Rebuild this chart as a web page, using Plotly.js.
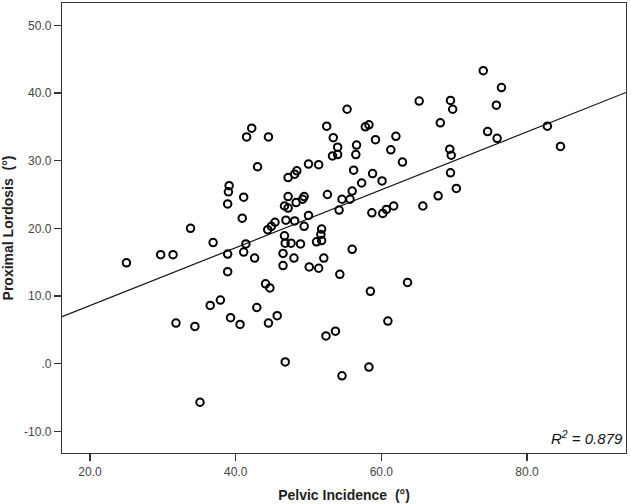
<!doctype html>
<html><head><meta charset="utf-8" />
<script src="https://cdn.plot.ly/plotly-3.0.1.min.js"></script>
<style>
  body { margin:0; background:#fff; }
  #chart { width:631px; height:504px; }
</style></head>
<body>
<div id="chart"></div>
<script>
// Pelvic Incidence (°) vs Proximal Lordosis (°)
const pelvicIncidence = [
  42.2, 41.5, 44.5, 43.0, 55.3, 65.2, 68.1, 52.5, 53.4, 57.8,
  58.3, 59.2, 62.0, 54.0, 56.6, 53.3, 54.0, 56.5, 61.3, 62.9,
  50.0, 51.4, 56.2, 58.8, 48.4, 48.1, 47.2, 74.0, 76.5, 69.5,
  69.8, 75.8, 82.8, 74.6, 75.9, 84.6, 69.4, 69.6, 69.5, 39.1,
  39.0, 41.1, 38.9, 40.9, 33.8, 36.9, 41.4, 38.9, 41.1, 42.6,
  29.7, 31.4, 25.0, 38.9, 37.9, 36.5, 42.9, 39.3, 40.6, 31.8,
  34.4, 44.5, 45.7, 52.4, 53.7, 46.8, 54.6, 35.1, 57.3, 60.1,
  56.0, 52.6, 47.2, 49.4, 49.2, 54.6, 55.7, 48.3, 46.7, 47.2,
  54.2, 58.7, 60.2, 60.7, 61.7, 65.7, 67.8, 70.3, 50.0, 46.9,
  48.1, 49.4, 45.4, 44.9, 44.4, 51.8, 51.7, 46.7, 51.8, 51.1,
  46.8, 47.6, 48.9, 56.0, 46.5, 48.0, 52.1, 46.5, 50.1, 51.4,
  54.3, 63.6, 44.1, 44.7, 58.5, 60.9, 58.3
];
const proximalLordosis = [
  34.8, 33.5, 33.5, 29.1, 37.6, 38.8, 35.6, 35.1, 33.4, 35.0,
  35.3, 33.1, 33.6, 32.0, 32.3, 30.7, 30.9, 30.9, 31.6, 29.8,
  29.5, 29.4, 28.6, 28.1, 28.5, 28.0, 27.5, 43.3, 40.8, 38.9,
  37.6, 38.2, 35.1, 34.3, 33.3, 32.1, 31.7, 30.8, 28.2, 26.3,
  25.4, 24.6, 23.6, 21.5, 20.0, 17.9, 17.7, 16.2, 16.5, 15.6,
  16.1, 16.1, 14.9, 13.6, 9.4, 8.6, 8.3, 6.8, 5.8, 6.0,
  5.5, 6.0, 7.1, 4.1, 4.8, 0.25, -1.8, -5.7, 26.7, 27.0,
  25.5, 25.0, 24.7, 24.7, 24.3, 24.3, 24.3, 23.8, 23.3, 23.0,
  22.7, 22.3, 22.2, 22.8, 23.3, 23.3, 24.8, 25.9, 21.9, 21.2,
  21.1, 20.3, 20.9, 20.3, 19.8, 19.9, 19.1, 18.9, 18.2, 18.0,
  17.8, 17.8, 17.7, 16.9, 16.3, 15.6, 15.6, 14.5, 14.3, 14.1,
  13.2, 12.0, 11.8, 11.2, 10.7, 6.3, -0.5
];

// fit line as drawn (slope / intercept)
const FIT_SLOPE = 0.428;
const FIT_INTERCEPT = 0.02;
const R2_LABEL = '0.879';

const X_RANGE = [16.15, 93.6];
const Y_RANGE = [-13.2, 53.3];
const xTickVals = [20, 40, 60, 80];
const xTickText = ['20.0', '40.0', '60.0', '80.0'];
const yTickVals = [-10, 0, 10, 20, 30, 40, 50];
const yTickText = ['-10.0', '.0', '10.0', '20.0', '30.0', '40.0', '50.0'];

const FONT = 'Liberation Sans, Arial, sans-serif';
const AXIS = {
  showgrid:false, zeroline:false, showline:true, mirror:true,
  linecolor:'#333', linewidth:1.2,
  ticks:'outside', ticklen:7, tickwidth:1.2, tickcolor:'#333',
  tickfont:{ family:FONT, size:12, color:'#444' },
};

const fitX = X_RANGE;
const fitY = fitX.map((x) => FIT_SLOPE * x + FIT_INTERCEPT);

const traces = [
  { type:'scatter', mode:'lines', x:fitX, y:fitY, hoverinfo:'skip',
    line:{ color:'#111', width:1.2 } },
  { type:'scatter', mode:'markers', x:pelvicIncidence, y:proximalLordosis,
    marker:{ symbol:'circle-open', size:7.5, color:'#000', line:{ width:2, color:'#000' } } },
];

const layout = {
  width:631, height:504, showlegend:false,
  paper_bgcolor:'#fff', plot_bgcolor:'#fff',
  margin:{ l:62, r:5, t:3, b:51 },
  font:{ family:FONT, color:'#222' },
  xaxis:{ ...AXIS, range:X_RANGE, tickvals:xTickVals, ticktext:xTickText,
    title:{ text:'Pelvic Incidence  (°)', standoff:12,
      font:{ family:FONT, size:14, color:'#222', weight:'bold' } } },
  yaxis:{ ...AXIS, range:Y_RANGE, tickvals:yTickVals, ticktext:yTickText,
    title:{ text:'Proximal Lordosis  (°)', standoff:12,
      font:{ family:FONT, size:14, color:'#222', weight:'bold' } } },
  annotations:[
    { xref:'paper', yref:'paper', x:0.998, y:0.035, xanchor:'right', yanchor:'middle',
      showarrow:false, text:'<i>R<sup>2</sup> = ' + R2_LABEL + '</i>',
      font:{ family:FONT, size:15, color:'#111' } },
  ],
};

Plotly.newPlot('chart', traces, layout, { displayModeBar:false, staticPlot:true });
</script>
</body></html>
